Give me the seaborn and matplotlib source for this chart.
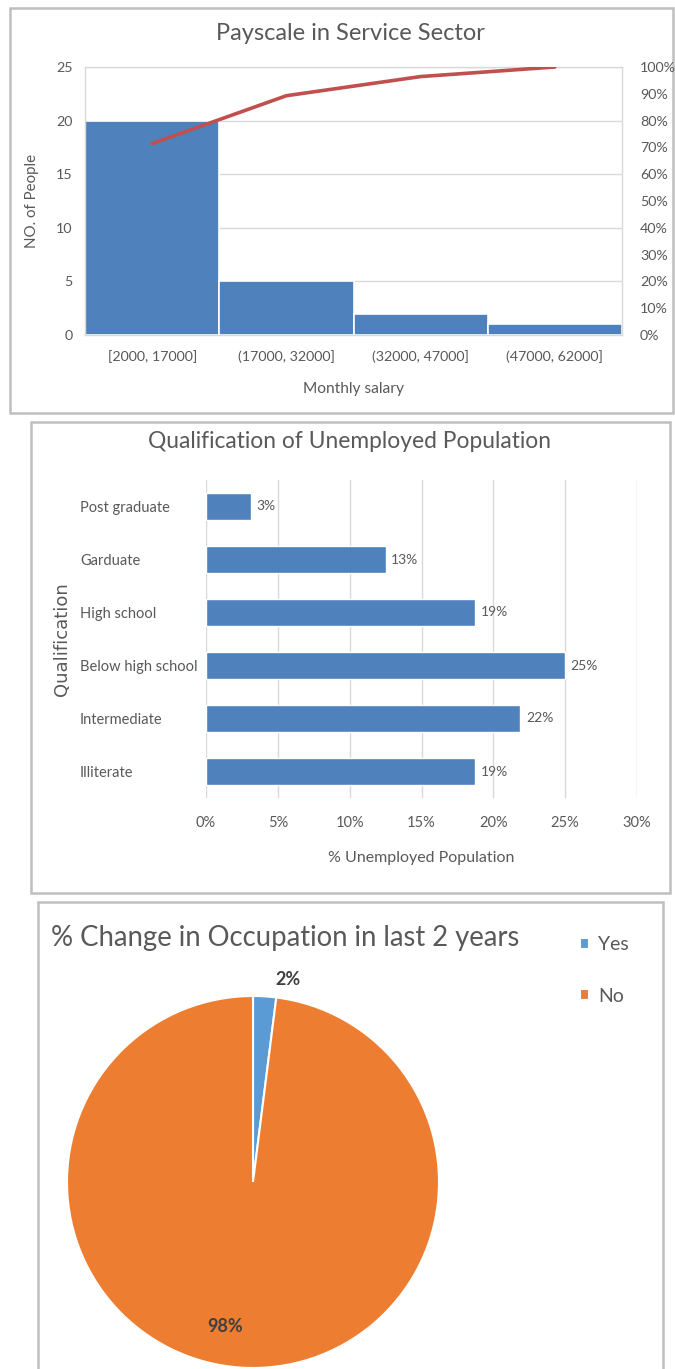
import numpy as np
import pandas as pd
import matplotlib
matplotlib.use("Agg")
import matplotlib.pyplot as plt
from matplotlib.patches import Rectangle
from matplotlib.ticker import PercentFormatter, MultipleLocator
import seaborn as sns

# ---- data ----
salary_bins = ["[2000, 17000]", "(17000, 32000]", "(32000, 47000]", "(47000, 62000]"]
people_counts = [20, 5, 2, 1]

qualifications = ["Post graduate", "Garduate", "High school",
                  "Below high school", "Intermediate", "Illiterate"]
unemployed_pct = [3.125, 12.5, 18.75, 25.0, 21.875, 18.75]

change_labels = ["Yes", "No"]
change_pct = [2, 98]

# ---- styling ----
W, H = 675, 1369
sns.set_theme(style="white")
plt.rcParams["font.family"] = ["Lato", "DejaVu Sans"]

TXT = "#595959"
GRID = "#D9D9D9"
BAR_BLUE = "#4F81BD"
LINE_RED = "#C0504D"

fig = plt.figure(figsize=(W / 100, H / 100), dpi=100)
fig.patch.set_facecolor("white")


def rect(l, t, r, b):
    """Pixel box (left, top, right, bottom) -> figure fraction rect."""
    return [l / W, 1 - b / H, (r - l) / W, (b - t) / H]


def frame(l, t, r, b):
    fig.add_artist(Rectangle((l / W, 1 - b / H), (r - l) / W, (b - t) / H,
                             transform=fig.transFigure, fill=False,
                             edgecolor="#BFBFBF", linewidth=1.8, zorder=0))


# ================= Panel 1: pareto of monthly salary =================
frame(10, 8, 673, 413)
ax1 = fig.add_axes(rect(85, 67, 622, 335))
df1 = pd.DataFrame({"bin": salary_bins, "count": people_counts})
sns.barplot(data=df1, x="bin", y="count", color=BAR_BLUE, width=1.0,
            saturation=1, edgecolor="white", linewidth=1.2, ax=ax1, zorder=2)
ax1.set_xlim(-0.5, len(salary_bins) - 0.5)
ax1.set_ylim(0, 25)
ax1.yaxis.set_major_locator(MultipleLocator(5))
ax1.grid(axis="y", color=GRID, linewidth=1)
ax1.set_axisbelow(True)
for s in ax1.spines.values():
    s.set_color(GRID)
    s.set_linewidth(1)
ax1.tick_params(axis="both", length=0, colors=TXT, labelsize=10.3)
ax1.tick_params(axis="y", pad=9)
ax1.tick_params(axis="x", pad=11)
ax1.set_xlabel("Monthly salary", color=TXT, fontsize=11.2)
ax1.xaxis.set_label_coords(0.5, -(382 - 335) / 268)
ax1.set_ylabel("NO. of People", color=TXT, fontsize=10.8)
ax1.yaxis.set_label_coords((39 - 85) / 537, 0.5)

ax2 = ax1.twinx()
cum_pct = np.cumsum(people_counts) / np.sum(people_counts) * 100
sns.lineplot(x=np.arange(len(people_counts)), y=cum_pct, ax=ax2,
             color=LINE_RED, linewidth=2.6, zorder=3)
ax2.set_xlim(-0.5, len(salary_bins) - 0.5)
ax2.set_ylim(0, 100)
ax2.yaxis.set_major_locator(MultipleLocator(10))
ax2.yaxis.set_major_formatter(PercentFormatter(decimals=0))
ax2.tick_params(axis="y", length=0, colors=TXT, labelsize=10.3, pad=13)
ax2.set_ylabel("")
ax2.set_xlabel("")
for s in ax2.spines.values():
    s.set_visible(False)
fig.text(350 / W, 1 - 33 / H, "Payscale in Service Sector", ha="center",
         va="center", fontsize=17, color=TXT)

# ================= Panel 2: qualification of unemployed =================
frame(31, 422, 670, 893)
ax3 = fig.add_axes(rect(206, 480, 637, 798))
sns.barplot(x=unemployed_pct, y=qualifications, orient="h", color=BAR_BLUE,
            width=0.5, saturation=1, ax=ax3, zorder=2)
ax3.set_xlim(0, 30)
ax3.set_ylim(len(qualifications) - 0.5, -0.5)
ax3.xaxis.set_major_locator(MultipleLocator(5))
ax3.xaxis.set_major_formatter(PercentFormatter(decimals=0))
ax3.grid(axis="x", color=GRID, linewidth=1)
ax3.set_axisbelow(True)
for s in ax3.spines.values():
    s.set_visible(False)
ax3.tick_params(axis="both", length=0, colors=TXT, labelsize=10.5)
ax3.tick_params(axis="x", pad=13)
ax3.tick_params(axis="y", pad=126 * 0.72)
for lbl in ax3.get_yticklabels():
    lbl.set_horizontalalignment("left")
ax3.bar_label(ax3.containers[0],
              labels=[f"{int(v + 0.5)}%" for v in unemployed_pct],
              padding=4, color=TXT, fontsize=10)
ax3.set_xlabel("% Unemployed Population", color=TXT, fontsize=11.5)
ax3.xaxis.set_label_coords(0.5, -(851 - 798) / 318)
ax3.set_ylabel("Qualification", color=TXT, fontsize=13,
               family=["DejaVu Sans"])
ax3.yaxis.set_label_coords((71 - 206) / 431, 0.5)
fig.text(350 / W, 1 - 441 / H, "Qualification of Unemployed Population",
         ha="center", va="center", fontsize=16.4, color=TXT)

# ================= Panel 3: change in occupation =================
frame(38, 902, 663, 1400)
R = 186
cx, cy = 253, 1182
ax4 = fig.add_axes(rect(cx - R * 1.02, cy - R * 1.02, cx + R * 1.02, cy + R * 1.02))
wedges, _ = ax4.pie(change_pct, colors=["#5B9BD5", "#ED7D31"], startangle=90,
                    counterclock=False,
                    wedgeprops=dict(edgecolor="white", linewidth=1.5))
ax4.set_xlim(-1.02, 1.02)
ax4.set_ylim(-1.02, 1.02)
ax4.set_aspect("equal")
ax4.axis("off")

# data labels placed along each wedge's mid angle
label_radius = [1.09, 0.78]
label_shift = [0.12, -0.1]
for w, pct, rr, dx in zip(wedges, change_pct, label_radius, label_shift):
    ang = np.deg2rad((w.theta1 + w.theta2) / 2)
    ax4.text(rr * np.cos(ang) + dx, rr * np.sin(ang),
             f"{pct}%", ha="center", va="center", fontsize=13,
             fontweight="bold", color="#404040")

fig.text(51 / W, 1 - 938 / H, "% Change in Occupation in last 2 years",
         ha="left", va="center", fontsize=19.8, color=TXT)
ax4.legend(wedges, change_labels, loc="upper left",
           bbox_to_anchor=(562 / W, 1 - 919 / H),
           bbox_transform=fig.transFigure, frameon=False, fontsize=14,
           handlelength=0.5, handleheight=0.5, handletextpad=0.45,
           labelspacing=1.75, labelcolor=TXT)

fig.savefig("out.png", dpi=100)
